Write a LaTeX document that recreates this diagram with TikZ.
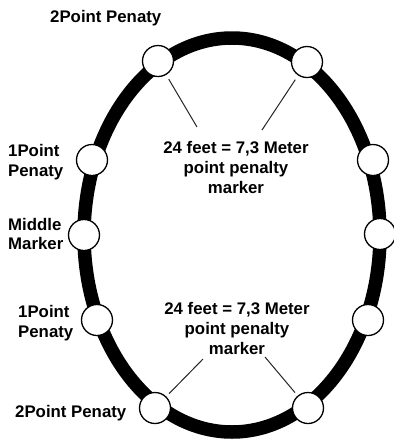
\documentclass[tikz,border=0pt]{standalone}
\usepackage{fontspec}
\setmainfont{Liberation Sans}
\begin{document}
\begin{tikzpicture}[x=1pt,y=-1pt,
  marker/.style={circle,draw=black,fill=white,line width=1.3pt,minimum size=31pt,inner sep=0pt},
  lbl/.style={font=\bfseries\fontsize{16.8}{19.5}\selectfont,inner sep=0pt,align=left,anchor=west},
  clbl/.style={font=\bfseries\fontsize{16.8}{20}\selectfont,inner sep=0pt,align=center},
  pointer/.style={line width=1pt,draw=black!85}]
\useasboundingbox[fill=white] (0,0) rectangle (394,440);
\draw[line width=13.5pt] (232,235) ellipse [x radius=148, y radius=197];
% markers
\node[marker] (tl) at (158,61) {};
\node[marker] (tr) at (307,62) {};
\node[marker] (l1) at (92,160) {};
\node[marker] (r1) at (373,160) {};
\node[marker] (lm) at (84,235) {};
\node[marker] (rm) at (380,234) {};
\node[marker] (l2) at (97,320) {};
\node[marker] (r2) at (368,320) {};
\node[marker] (bl) at (155,408) {};
\node[marker] (br) at (308,408) {};
% labels
\node[lbl] (t2p) at (50,18) {2Point Penaty};
\node[lbl] (t1p) at (8,162) {1Point\\Penaty};
\node[lbl] (mid) at (8,234) {Middle\\Marker};
\node[lbl] (b1p) at (18,323) {1Point\\Penaty};
\node[lbl] (b2p) at (15,413) {2Point Penaty};
\node[clbl] (tt) at (236,167) {24 feet = 7,3 Meter\\point penalty\\marker};
\node[clbl] (bt) at (237,328) {24 feet = 7,3 Meter\\point penalty\\marker};
% pointers
\coordinate (ptl) at (197,127);
\coordinate (ptr) at (262,130);
\coordinate (pbl) at (203,359);
\coordinate (pbr) at (265,357);
\draw[pointer,shorten <=5pt] (tl) -- (ptl);
\draw[pointer,shorten <=5pt] (tr) -- (ptr);
\draw[pointer,shorten <=4pt] (bl) -- (pbl);
\draw[pointer,shorten <=4pt] (br) -- (pbr);
\end{tikzpicture}
\end{document}
